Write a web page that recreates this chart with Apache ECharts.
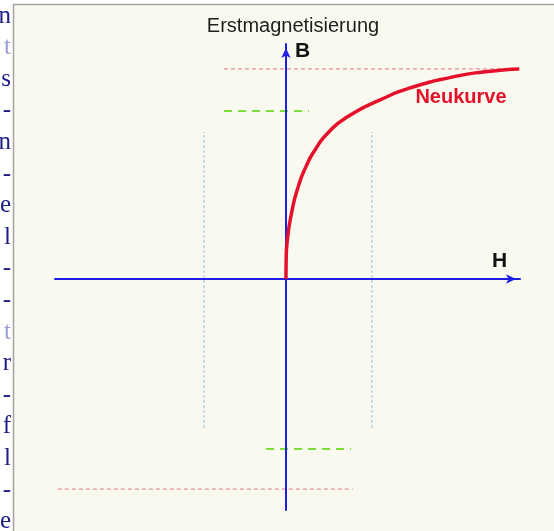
<!DOCTYPE html>
<html>
<head>
<meta charset="utf-8">
<script src="https://cdn.jsdelivr.net/npm/echarts@6/dist/echarts.min.js"></script>
<style>
  html, body { margin: 0; padding: 0; background: #ffffff; }
  #chart { width: 554px; height: 531px; }
</style>
</head>
<body>
<div id="chart"></div>
<script>
// Initial magnetisation curve (Neukurve): field strength H vs flux density B
const curveH = [0, 0.01, 0.06, 0.24, 0.5, 0.85, 1.24, 1.79, 2.61, 4.02, 5.43, 7.14, 8.42, 9.96];
const curveB = [0, 0.9, 1.66, 2.81, 3.85, 4.77, 5.49, 6.21, 6.89, 7.62, 8.17, 8.6, 8.81, 8.94];

// Saturation levels (red dotted), upper and lower
const satB = [8.94, -8.94];
const satSpanTop = [-2.65, 10];
const satSpanBottom = [-9.75, 2.85];

// Remanence levels (green dashed), upper and lower
const remB = [7.15, -7.23];
const remSpanTop = [-2.65, 0.98];
const remSpanBottom = [-0.85, 2.78];

// Coercive field markers (light blue dotted verticals)
const coerH = [-3.5, 3.67];
const coerSpanB = [-6.34, 6.26];

// Neighbouring page text, one glyph per line (serif column on the left)
const sideGlyphs = ['n', 't', 's', '-', 'n', '-', 'e', 'l', '-', '-', 't', 'r', '-', 'f', 'l', '-', 'e'];
const sideFaint = [1, 10];

const axisBlue = '#1f1fe4';
const curveRed = '#e5112b';

function seg(pts, color, width, dash, z) {
  return {
    type: 'line', data: pts, symbol: 'none', silent: true, z: z || 2,
    animation: false,
    lineStyle: { color: color, width: width, type: dash }
  };
}

const series = [
  seg([[satSpanTop[0], satB[0]], [satSpanTop[1], satB[0]]], '#e07582', 1, [4, 3]),
  seg([[satSpanBottom[0], satB[1]], [satSpanBottom[1], satB[1]]], '#e07582', 1, [4, 3]),
  seg([[remSpanTop[0], remB[0]], [remSpanTop[1], remB[0]]], '#79dd35', 2, [8, 6]),
  seg([[remSpanBottom[0], remB[1]], [remSpanBottom[1], remB[1]]], '#79dd35', 2, [8, 6]),
  seg([[coerH[0], coerSpanB[0]], [coerH[0], coerSpanB[1]]], '#8cc4e8', 1, [3, 2]),
  seg([[coerH[1], coerSpanB[0]], [coerH[1], coerSpanB[1]]], '#8cc4e8', 1, [3, 2]),
  {
    type: 'line', name: 'Neukurve', z: 20, silent: true, animation: false,
    data: curveH.map((h, i) => [h, curveB[i]]),
    symbol: 'none', smooth: 0.6,
    lineStyle: { color: curveRed, width: 3.5 }
  }
];

const graphics = [
  {
    type: 'rect', z: -10, silent: true,
    shape: { x: 13.5, y: 4.5, width: 560, height: 540 },
    style: { fill: '#f9f9ef', stroke: '#a3a3a3', lineWidth: 1.5 }
  }
];
sideGlyphs.forEach((g, k) => {
  graphics.push({
    type: 'text', z: -5, silent: true,
    x: 11, y: 16 + 31.6 * k,
    style: {
      text: g, align: 'right', verticalAlign: 'middle',
      font: '25px "Liberation Serif", serif',
      fill: sideFaint.includes(k) ? '#9c9cd4' : '#1c1c86'
    }
  });
});
graphics.push(
  {
    type: 'text', silent: true, x: 293, y: 26,
    style: { text: 'Erstmagnetisierung', align: 'center', verticalAlign: 'middle',
      font: '20px "Liberation Sans", Arial, sans-serif', fill: '#1e1e1e' }
  },
  {
    type: 'text', silent: true, x: 295, y: 51,
    style: { text: 'B', align: 'left', verticalAlign: 'middle',
      font: 'bold 21px "Liberation Sans", Arial, sans-serif', fill: '#111111' }
  },
  {
    type: 'text', silent: true, x: 492, y: 261,
    style: { text: 'H', align: 'left', verticalAlign: 'middle',
      font: 'bold 21px "Liberation Sans", Arial, sans-serif', fill: '#111111' }
  },
  {
    type: 'text', silent: true, x: 461, y: 97,
    style: { text: 'Neukurve', align: 'center', verticalAlign: 'middle',
      font: 'bold 20px "Liberation Sans", Arial, sans-serif', fill: curveRed }
  }
);

function axis(min) {
  return {
    type: 'value', min: min, max: 10, z: 10,
    axisLine: {
      show: true, onZero: true,
      symbol: ['none', 'arrow'], symbolSize: [7, 10], symbolOffset: [0, -4],
      lineStyle: { color: axisBlue, width: 2 }
    },
    axisTick: { show: false }, axisLabel: { show: false }, splitLine: { show: false }
  };
}

const chart = echarts.init(document.getElementById('chart'));
chart.setOption({
  backgroundColor: 'transparent',
  animation: false,
  grid: { left: 55, right: 34, top: 44, bottom: 21 },
  xAxis: axis(-9.87),
  yAxis: axis(-9.83),
  series: series,
  graphic: graphics
});
</script>
</body>
</html>
